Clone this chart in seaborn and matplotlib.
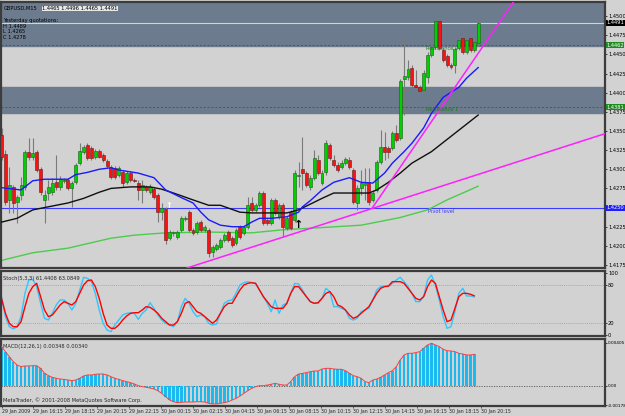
import numpy as np
import pandas as pd
import matplotlib
matplotlib.use("Agg")
import matplotlib.pyplot as plt
import seaborn as sns

# ---- GBPUSD M15 candles (29-30 Jan 2009) ----
opens = [1.4345, 1.4320, 1.4260, 1.4277, 1.4257, 1.4266, 1.4277, 1.4323, 1.4316, 1.4323,
         1.4300, 1.4260, 1.4269, 1.4270, 1.4283, 1.4277, 1.4285, 1.4286, 1.4276, 1.4283,
         1.4308, 1.4323, 1.4332, 1.4328, 1.4316, 1.4324, 1.4319, 1.4311, 1.4303, 1.4302,
         1.4293, 1.4296, 1.4283, 1.4295, 1.4286, 1.4282, 1.4273, 1.4277, 1.4270, 1.4274,
         1.4266, 1.4244, 1.4248, 1.4210, 1.4217, 1.4212, 1.4221, 1.4235, 1.4244, 1.4221,
         1.4218, 1.4231, 1.4221, 1.4221, 1.4192, 1.4196, 1.4199, 1.4208, 1.4218, 1.4210,
         1.4204, 1.4225, 1.4217, 1.4225, 1.4256, 1.4247, 1.4253, 1.4269, 1.4234, 1.4230,
         1.4260, 1.4238, 1.4253, 1.4223, 1.4244, 1.4234, 1.4291, 1.4300, 1.4295, 1.4277,
         1.4289, 1.4312, 1.4282, 1.4296, 1.4332, 1.4312, 1.4306, 1.4303, 1.4308, 1.4312,
         1.4299, 1.4256, 1.4276, 1.4279, 1.4283, 1.4260, 1.4273, 1.4310, 1.4329, 1.4328,
         1.4328, 1.4347, 1.4341, 1.4418, 1.4420, 1.4432, 1.4410, 1.4407, 1.4404, 1.4420,
         1.4449, 1.4460, 1.4494, 1.4456, 1.4448, 1.4436, 1.4436, 1.4458, 1.4471, 1.4453,
         1.4471, 1.4456, 1.4465]
highs = [1.4354, 1.4325, 1.4303, 1.4279, 1.4266, 1.4290, 1.4325, 1.4341, 1.4341, 1.4325,
         1.4303, 1.4273, 1.4286, 1.4289, 1.4319, 1.4291, 1.4289, 1.4289, 1.4285, 1.4308,
         1.4334, 1.4332, 1.4334, 1.4330, 1.4326, 1.4326, 1.4321, 1.4313, 1.4306, 1.4304,
         1.4304, 1.4299, 1.4298, 1.4298, 1.4289, 1.4286, 1.4286, 1.4279, 1.4281, 1.4277,
         1.4269, 1.4256, 1.4251, 1.4221, 1.4219, 1.4221, 1.4239, 1.4239, 1.4247, 1.4223,
         1.4232, 1.4234, 1.4227, 1.4223, 1.4201, 1.4204, 1.4210, 1.4217, 1.4221, 1.4213,
         1.4223, 1.4227, 1.4227, 1.4264, 1.4264, 1.4256, 1.4272, 1.4272, 1.4236, 1.4262,
         1.4262, 1.4256, 1.4256, 1.4239, 1.4247, 1.4299, 1.4310, 1.4342, 1.4298, 1.4293,
         1.4325, 1.4319, 1.4299, 1.4338, 1.4334, 1.4319, 1.4310, 1.4312, 1.4316, 1.4316,
         1.4302, 1.4279, 1.4299, 1.4302, 1.4302, 1.4273, 1.4312, 1.4351, 1.4349, 1.4330,
         1.4350, 1.4358, 1.4418, 1.4471, 1.4443, 1.4436, 1.4430, 1.4410, 1.4430, 1.4453,
         1.4478, 1.4499, 1.4496, 1.4458, 1.4451, 1.4439, 1.4460, 1.4471, 1.4484, 1.4484,
         1.4474, 1.4469, 1.4496]
lows = [1.4312, 1.4253, 1.4243, 1.4243, 1.4230, 1.4260, 1.4273, 1.4312, 1.4312, 1.4296,
        1.4266, 1.4230, 1.4260, 1.4266, 1.4273, 1.4273, 1.4282, 1.4273, 1.4251, 1.4281,
        1.4306, 1.4320, 1.4312, 1.4312, 1.4313, 1.4315, 1.4310, 1.4302, 1.4287, 1.4287,
        1.4290, 1.4277, 1.4281, 1.4283, 1.4283, 1.4260, 1.4256, 1.4270, 1.4268, 1.4261,
        1.4231, 1.4234, 1.4202, 1.4208, 1.4213, 1.4209, 1.4218, 1.4232, 1.4218, 1.4214,
        1.4216, 1.4218, 1.4218, 1.4185, 1.4185, 1.4193, 1.4196, 1.4205, 1.4205, 1.4199,
        1.4201, 1.4209, 1.4214, 1.4222, 1.4244, 1.4244, 1.4251, 1.4227, 1.4227, 1.4227,
        1.4240, 1.4235, 1.4212, 1.4221, 1.4221, 1.4231, 1.4277, 1.4273, 1.4277, 1.4273,
        1.4286, 1.4293, 1.4279, 1.4293, 1.4312, 1.4303, 1.4296, 1.4300, 1.4306, 1.4300,
        1.4255, 1.4247, 1.4266, 1.4260, 1.4253, 1.4257, 1.4270, 1.4307, 1.4312, 1.4315,
        1.4325, 1.4336, 1.4338, 1.4371, 1.4417, 1.4407, 1.4405, 1.4400, 1.4401, 1.4413,
        1.4447, 1.4457, 1.4456, 1.4440, 1.4434, 1.4431, 1.4426, 1.4456, 1.4451, 1.4451,
        1.4453, 1.4453, 1.4465]
closes = [1.4316, 1.4257, 1.4279, 1.4256, 1.4264, 1.4279, 1.4323, 1.4316, 1.4321, 1.4299,
          1.4270, 1.4266, 1.4277, 1.4282, 1.4277, 1.4287, 1.4286, 1.4276, 1.4282, 1.4306,
          1.4324, 1.4329, 1.4315, 1.4315, 1.4324, 1.4316, 1.4312, 1.4304, 1.4290, 1.4290,
          1.4302, 1.4282, 1.4295, 1.4286, 1.4285, 1.4273, 1.4279, 1.4273, 1.4277, 1.4264,
          1.4244, 1.4249, 1.4208, 1.4218, 1.4218, 1.4218, 1.4236, 1.4236, 1.4221, 1.4217,
          1.4230, 1.4221, 1.4225, 1.4191, 1.4199, 1.4201, 1.4208, 1.4214, 1.4208, 1.4201,
          1.4221, 1.4212, 1.4225, 1.4253, 1.4247, 1.4253, 1.4269, 1.4230, 1.4230, 1.4260,
          1.4243, 1.4253, 1.4225, 1.4236, 1.4223, 1.4295, 1.4293, 1.4295, 1.4279, 1.4289,
          1.4315, 1.4295, 1.4295, 1.4334, 1.4315, 1.4306, 1.4299, 1.4308, 1.4313, 1.4303,
          1.4257, 1.4276, 1.4282, 1.4282, 1.4257, 1.4269, 1.4310, 1.4329, 1.4323, 1.4323,
          1.4347, 1.4338, 1.4415, 1.4422, 1.4431, 1.4410, 1.4407, 1.4402, 1.4426, 1.4449,
          1.4460, 1.4494, 1.4458, 1.4443, 1.4436, 1.4434, 1.4457, 1.4469, 1.4453, 1.4469,
          1.4456, 1.4466, 1.4491]

# moving averages (bar index, price)
ma_blue_x = [0, 5, 8, 11, 17, 19, 22, 25, 28, 30, 35, 39, 42, 46, 49, 51, 53, 56, 59, 62,
             64, 66, 69, 73, 76, 77, 79, 82, 85, 89, 92, 95, 98, 100, 103, 105, 108, 110, 113, 117, 119, 122]
ma_blue_y = [1.4276, 1.4273, 1.4285, 1.4287, 1.4287, 1.4293, 1.4296, 1.4300, 1.4302, 1.4299,
             1.4295, 1.4289, 1.4273, 1.4263, 1.4256, 1.4244, 1.4234, 1.4227, 1.4225, 1.4225,
             1.4231, 1.4236, 1.4236, 1.4238, 1.4244, 1.4251, 1.4259, 1.4273, 1.4283, 1.4289,
             1.4283, 1.4282, 1.4295, 1.4308, 1.4323, 1.4334, 1.4354, 1.4373, 1.4394, 1.4407,
             1.4419, 1.4433]
ma_black_x = [0, 4, 8, 12, 17, 21, 25, 28, 33, 38, 41, 44, 49, 53, 56, 61, 64, 68, 73, 76,
              82, 85, 94, 96, 99, 102, 105, 110, 117, 122]
ma_black_y = [1.4231, 1.4236, 1.4247, 1.4251, 1.4256, 1.4262, 1.4270, 1.4275, 1.4277, 1.4277,
              1.4274, 1.4269, 1.4260, 1.4253, 1.4253, 1.4244, 1.4243, 1.4243, 1.4243, 1.4247,
              1.4262, 1.4269, 1.4269, 1.4273, 1.4283, 1.4295, 1.4308, 1.4323, 1.4351, 1.4371]
ma_green_x = [0, 8, 17, 28, 34, 42, 53, 64, 72, 79, 92, 102, 109, 114, 122]
ma_green_y = [1.4181, 1.4191, 1.4197, 1.4210, 1.4214, 1.4217, 1.4218, 1.4217, 1.4221, 1.4223,
              1.4227, 1.4237, 1.4247, 1.4260, 1.4278]

# trend lines (bar index, price)
trend_a_x = [47.4, 154.7]
trend_a_y = [1.4171, 1.4347]
trend_b_x = [94.8, 131.3]
trend_b_y = [1.4249, 1.4521]

pivot_level = 1.4250
res1_level = 1.4381
res2_level = 1.4462
bid_level = 1.4491
band_top = (1.4461, 1.4530)
band_mid = (1.4374, 1.4407)

# Stochastic(5,3,3)
stoch_main = [61.8, 29.6, 13.4, 9.7, 13.4, 29.6, 67.2, 88.7, 89.8, 78.0,
              51.1, 26.9, 24.2, 34.9, 48.4, 56.5, 56.5, 51.1, 40.3, 51.1,
              72.6, 93.0, 91.4, 86.0, 67.2, 40.3, 18.8, 8.1, 5.4, 16.1,
              24.2, 32.3, 34.9, 36.0, 34.9, 25.3, 34.9, 40.3, 52.2, 43.0,
              32.3, 24.2, 18.8, 16.1, 13.4, 21.5, 45.7, 59.1, 51.1, 37.6,
              29.6, 32.3, 29.6, 18.8, 16.1, 17.7, 34.9, 51.1, 55.4, 56.5,
              67.2, 80.6, 84.4, 86.0, 84.4, 83.3, 72.6, 61.8, 51.1, 37.6,
              56.5, 34.9, 48.4, 51.1, 67.2, 83.3, 82.3, 72.6, 61.8, 53.8,
              51.1, 51.1, 59.1, 75.3, 69.9, 45.7, 45.7, 43.0, 40.3, 26.9,
              24.2, 26.9, 37.6, 40.3, 43.0, 56.5, 72.6, 78.0, 79.0, 78.0,
              83.3, 88.7, 93.0, 86.0, 78.0, 67.2, 53.8, 53.8, 61.8, 88.7,
              96.8, 80.6, 56.5, 29.6, 10.8, 13.4, 37.6, 67.2, 75.3, 62.9,
              62.9, 61.4]
stoch_signal = [59.1, 34.9, 18.8, 13.4, 13.4, 21.5, 45.7, 67.2, 78.0, 83.3,
                61.8, 40.3, 29.6, 32.3, 40.3, 48.4, 53.8, 51.1, 48.4, 53.8,
                67.2, 80.6, 87.6, 88.7, 78.0, 59.1, 34.9, 16.1, 10.8, 10.8,
                16.1, 24.2, 30.6, 34.9, 36.0, 36.0, 40.3, 45.7, 44.6, 40.3,
                34.9, 26.9, 21.5, 16.1, 16.1, 21.5, 34.9, 51.1, 53.8, 45.7,
                37.6, 34.9, 29.6, 24.2, 18.8, 24.2, 34.9, 45.7, 51.1, 51.1,
                61.8, 72.6, 80.6, 83.3, 84.4, 83.3, 72.6, 61.8, 53.8, 45.7,
                43.0, 43.0, 43.0, 51.1, 67.2, 78.0, 78.0, 69.9, 61.8, 53.8,
                51.1, 52.2, 59.1, 67.2, 69.9, 61.8, 48.4, 45.7, 40.3, 32.3,
                26.9, 29.6, 34.9, 40.3, 45.7, 56.5, 67.2, 75.3, 78.0, 79.0,
                86.0, 86.0, 86.0, 83.3, 75.3, 67.2, 59.1, 56.5, 61.8, 78.0,
                88.7, 83.3, 61.8, 40.3, 21.5, 24.2, 43.0, 61.8, 67.2, 67.2,
                65.6, 63.1]

# MACD(12,26,1)
macd_hist = [0.00368, 0.00321, 0.00274, 0.00228, 0.00196, 0.00181, 0.00187, 0.00187, 0.00190, 0.00190,
             0.00165, 0.00118, 0.00097, 0.00081, 0.00072, 0.00065, 0.00062, 0.00056, 0.00050, 0.00056,
             0.00072, 0.00094, 0.00103, 0.00103, 0.00109, 0.00112, 0.00112, 0.00103, 0.00087, 0.00072,
             0.00062, 0.00050, 0.00041, 0.00031, 0.00019, 0.00003, -0.00006, -0.00012, -0.00019, -0.00028,
             -0.00044, -0.00069, -0.00100, -0.00131, -0.00147, -0.00156, -0.00153, -0.00150, -0.00150, -0.00150,
             -0.00147, -0.00147, -0.00150, -0.00162, -0.00168, -0.00168, -0.00162, -0.00156, -0.00147, -0.00131,
             -0.00116, -0.00094, -0.00069, -0.00044, -0.00022, -0.00006, 0.00003, 0.00003, 0.00009, 0.00016,
             0.00025, 0.00016, 0.00009, 0.00009, 0.00041, 0.00087, 0.00112, 0.00118, 0.00125, 0.00134,
             0.00140, 0.00140, 0.00159, 0.00165, 0.00165, 0.00159, 0.00156, 0.00156, 0.00143, 0.00118,
             0.00097, 0.00087, 0.00072, 0.00041, 0.00031, 0.00056, 0.00065, 0.00081, 0.00103, 0.00125,
             0.00143, 0.00181, 0.00243, 0.00290, 0.00305, 0.00305, 0.00312, 0.00321, 0.00352, 0.00383,
             0.00399, 0.00383, 0.00368, 0.00343, 0.00330, 0.00327, 0.00321, 0.00305, 0.00299, 0.00290,
             0.00290, 0.00296]

time_labels = ["29 Jan 2009", "29 Jan 16:15", "29 Jan 18:15", "29 Jan 20:15", "29 Jan 22:15",
               "30 Jan 00:15", "30 Jan 02:15", "30 Jan 04:15", "30 Jan 06:15", "30 Jan 08:15",
               "30 Jan 10:15", "30 Jan 12:15", "30 Jan 14:15", "30 Jan 16:15", "30 Jan 18:15",
               "30 Jan 20:15"]

BG = "#d2d2d2"
BAND = "#6c7b8d"
FRAME = "#3c3c3c"
FS = 3.7

sns.set_theme(style="white")
plt.rcParams["font.family"] = ["DejaVu Sans"]

W, H = 625, 416
fig = plt.figure(figsize=(W / 100, H / 100), dpi=100)
fig.patch.set_facecolor(BG)


def pane(top, bottom):
    a = fig.add_axes([1 / W, 1 - bottom / H, 604 / W, (bottom - top) / H])
    a.set_facecolor(BG)
    for s in a.spines.values():
        s.set_color(FRAME)
        s.set_linewidth(1.6)
    a.set_xlim(-0.13, 154.4)
    a.yaxis.tick_right()
    a.tick_params(axis="y", labelsize=FS, length=1.5, width=0.5, pad=0.6, colors="black")
    a.tick_params(axis="x", bottom=False, labelbottom=False)
    return a


ax = pane(2, 268)
ax_st = pane(271, 336)
ax_md = pane(339, 406)

df = pd.DataFrame({"open": opens, "high": highs, "low": lows, "close": closes})
df["idx"] = np.arange(len(df))
up = df["close"] >= df["open"]

# ---- main pane ----
ax.set_ylim(1.41711, 1.45184)
ax.axhspan(*band_top, color=BAND, zorder=0)
ax.axhspan(*band_mid, color=BAND, zorder=0)
ax.axhline(bid_level, color="#d8d8b8", lw=0.8, zorder=1)
for lvl in (res2_level, res1_level):
    ax.axhline(lvl, color="#1f7a1f", lw=0.7, ls=(0, (2, 2)), zorder=1)
ax.axhline(pivot_level, color="#3b3bff", lw=0.8, zorder=1)

ax.vlines(df["idx"], df["low"], df["high"], color="#7a7a7a", lw=0.8, zorder=3)
body = (df["close"] - df["open"]).abs()
ax.bar(df["idx"][up], body[up], bottom=df["open"][up], width=0.75,
       color="#00d000", edgecolor="#1e5a1e", lw=0.4, zorder=4)
ax.bar(df["idx"][~up], body[~up], bottom=df["close"][~up], width=0.75,
       color="#ff1010", edgecolor="#5a1e1e", lw=0.4, zorder=4)

sns.lineplot(x=ma_green_x, y=ma_green_y, color="#4ccc4c", lw=1.0, sort=False, ax=ax, zorder=2)
sns.lineplot(x=ma_black_x, y=ma_black_y, color="#101010", lw=1.0, sort=False, ax=ax, zorder=5)
sns.lineplot(x=ma_blue_x, y=ma_blue_y, color="#1a1aff", lw=1.0, sort=False, ax=ax, zorder=5)
sns.lineplot(x=trend_a_x, y=trend_a_y, color="#ff20ff", lw=1.1, sort=False, ax=ax, zorder=6)
sns.lineplot(x=trend_b_x, y=trend_b_y, color="#ff20ff", lw=1.1, sort=False, ax=ax, zorder=6)

ax.text(76.1, 1.4227, "\u2191", color="black", fontsize=8, fontweight="bold",
        ha="center", va="center", zorder=7)
ax.text(42.7, 1.4253, "\u2191", color="white", fontsize=6, fontweight="bold",
        ha="center", va="center", zorder=7)

ax.text(108.5, res2_level - 0.0001, "Resistance 2", color="#1f7a1f", fontsize=FS, va="top", zorder=7)
ax.text(108.5, res1_level + 0.00005, "Resistance 1", color="#1f7a1f", fontsize=FS, va="top", zorder=7)
ax.text(109, pivot_level - 0.0002, "Pivot level", color="#3b3bff", fontsize=FS, va="top", zorder=7)

ax.text(0.004, 0.985, "GBPUSD,M15", transform=ax.transAxes, fontsize=FS, va="top", color="black")
ax.text(0.068, 0.985, "1.4465 1.4496 1.4465 1.4491", transform=ax.transAxes, fontsize=FS, va="top",
        color="black", bbox=dict(fc="#e8e8e8", ec="none", pad=0.3))
ax.text(0.004, 0.94, "Yesterday quotations:\nH 1.4489\nL 1.4265\nC 1.4278",
        transform=ax.transAxes, fontsize=FS, va="top", color="black", linespacing=1.15)

price_ticks = [1.4175, 1.4200, 1.4225, 1.4275, 1.4300, 1.4325, 1.4350, 1.4375,
               1.4400, 1.4425, 1.4450, 1.4475, 1.4500]
ax.set_yticks(price_ticks)
ax.set_yticklabels([f"{p:.4f}" for p in price_ticks])
for lvl, fc in ((bid_level, "black"), (res2_level, "#1f8a1f"), (res1_level, "#1f8a1f"),
                (pivot_level, "#2020ff")):
    ax.text(1.002, lvl, f"{lvl:.4f}", transform=ax.get_yaxis_transform(), fontsize=FS,
            color="white", va="center", ha="left", clip_on=False,
            bbox=dict(fc=fc, ec="none", pad=0.4))

# ---- stochastic pane ----
st_x = np.arange(len(stoch_main))
ax_st.set_ylim(-1.6, 103.2)
ax_st.axhline(80, color="#9a9a9a", lw=0.5, ls=(0, (1.5, 1.5)), zorder=1)
ax_st.axhline(20, color="#9a9a9a", lw=0.5, ls=(0, (1.5, 1.5)), zorder=1)
sns.lineplot(x=st_x, y=stoch_main, color="#2ec8ff", lw=1.0, ax=ax_st)
sns.lineplot(x=st_x, y=stoch_signal, color="#ff0000", lw=1.0, ax=ax_st)
ax_st.set_yticks([0, 20, 80, 100])
ax_st.set_yticklabels(["0", "20", "80", "100"])
ax_st.text(0.004, 0.93, "Stoch(5,3,3) 61.4408 63.0849", transform=ax_st.transAxes,
           fontsize=FS, va="top")

# ---- MACD pane ----
md_x = np.arange(len(macd_hist))
ax_md.set_ylim(-0.00187, 0.00439)
ax_md.bar(md_x, macd_hist, width=0.62, color="#1cb8f0", edgecolor="none", zorder=2)
sns.lineplot(x=md_x, y=macd_hist, color="#ff4040", lw=0.7, ax=ax_md, zorder=3)
ax_md.axhline(0, color="#555555", lw=0.6, ls=(0, (1.5, 1.5)), zorder=1)
ax_md.set_yticks([-0.00178, 0.0, 0.00405])
ax_md.set_yticklabels(["-0.00178", "0.00", "0.00405"])
ax_md.tick_params(axis="y", labelsize=3.1, pad=0.4)
ax_md.text(0.004, 0.93, "MACD(12,26,1) 0.00348 0.00340", transform=ax_md.transAxes,
           fontsize=FS, va="top")
ax_md.text(0.004, 0.04, "MetaTrader, \u00a9 2001-2008 MetaQuotes Software Corp.",
           transform=ax_md.transAxes, fontsize=FS, va="bottom")

ax_md.set_xticks(np.arange(len(time_labels)) * 8.18)
ax_md.set_xticklabels(time_labels)
ax_md.tick_params(axis="x", bottom=True, labelbottom=True, labelsize=3.4, length=1.5,
                  width=0.5, pad=0.8)
for t in ax_md.get_xticklabels():
    t.set_horizontalalignment("left")

for a in (ax, ax_st, ax_md):
    a.set_xlabel("")
    a.set_ylabel("")
    if a.get_legend():
        a.get_legend().remove()

fig.savefig("out.png", dpi=100, facecolor=fig.get_facecolor())
